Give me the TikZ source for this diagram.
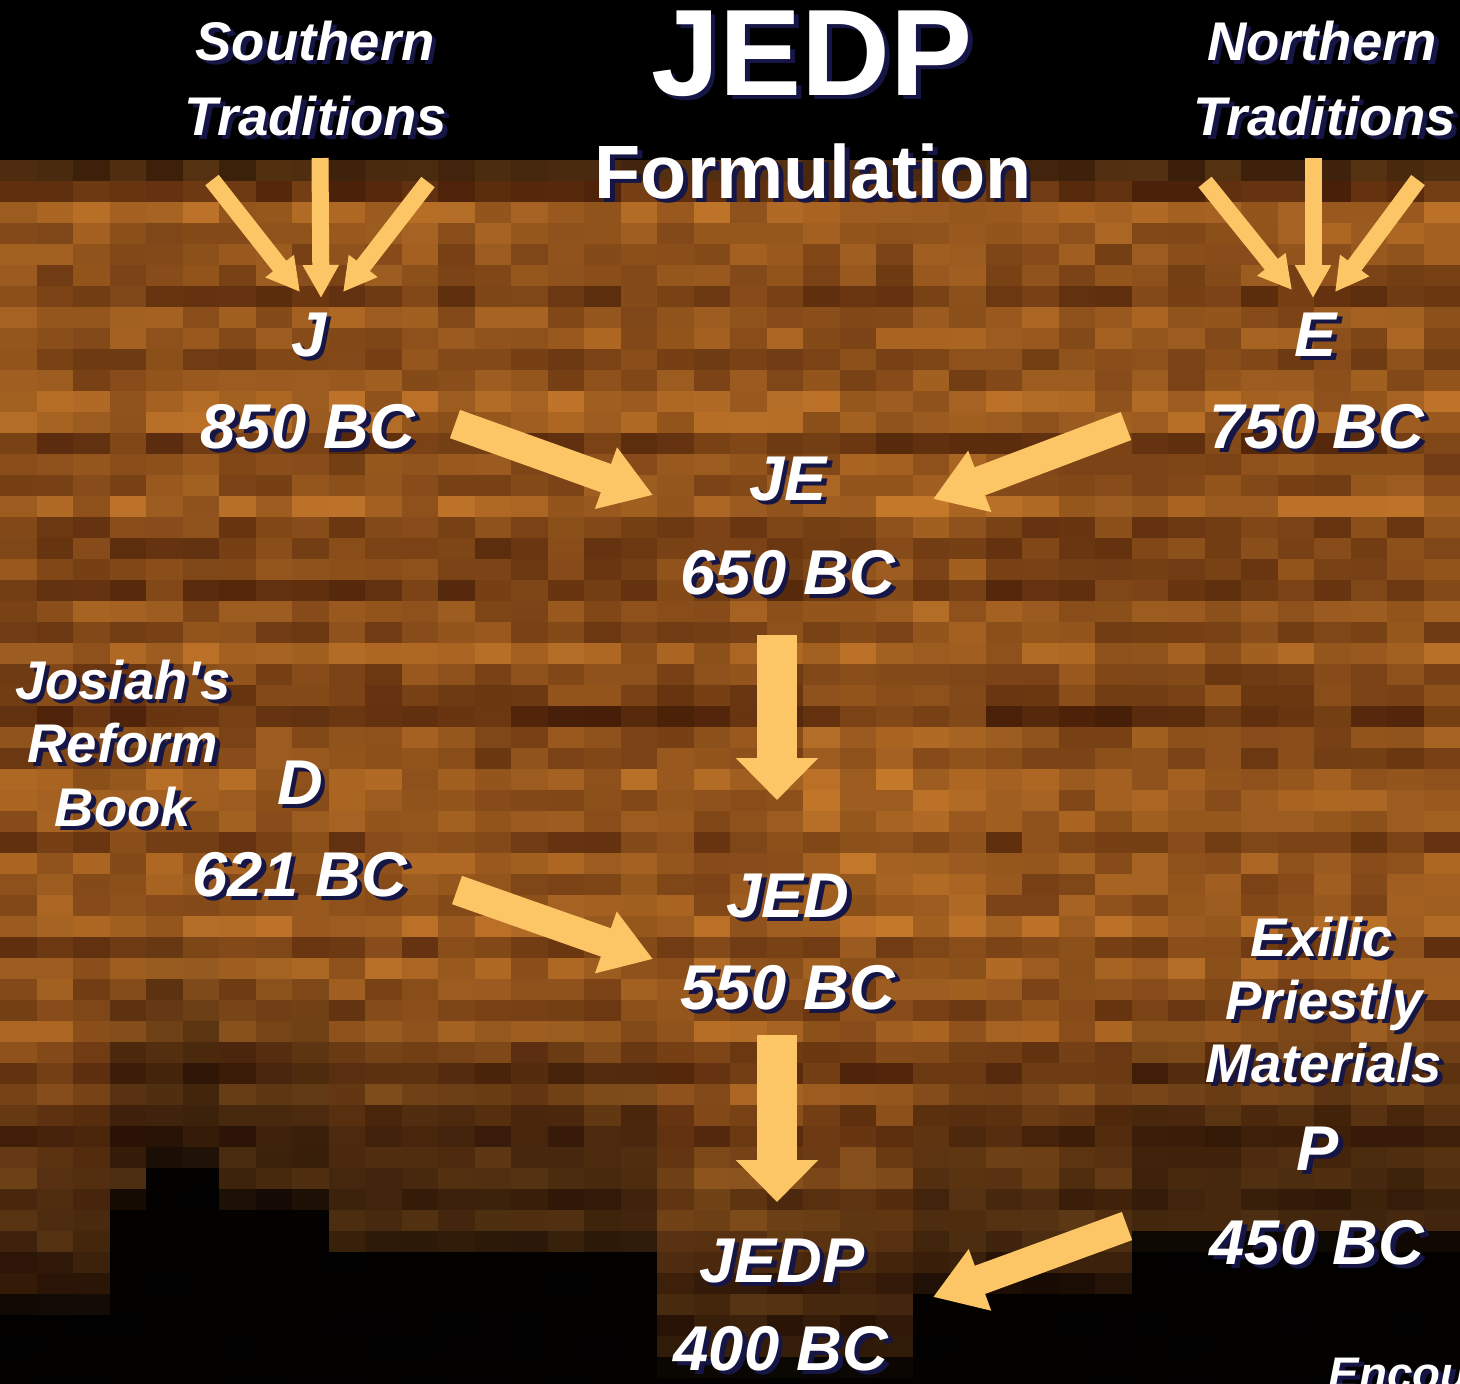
\documentclass[tikz,border=0pt]{standalone}
\usepackage{fontspec}
\setmainfont{Liberation Sans}
\usetikzlibrary{arrows.meta}
\definecolor{arrowc}{RGB}{252,198,102}
\definecolor{lt}{RGB}{196,120,42}
\definecolor{dk}{RGB}{66,26,6}
\definecolor{shc}{RGB}{22,22,70}
\newcommand\txsh[1]{\rlap{\kern1.3pt\raisebox{-1.3pt}{\color{shc}#1}}#1}
\begin{document}
\begin{tikzpicture}[x=0.1mm,y=-0.1mm,
  lbl/.style={text=white,inner sep=0,anchor=base,font=\fontsize{18}{20}\selectfont\bfseries\itshape},
  side/.style={lbl,font=\fontsize{15.5}{18}\selectfont\bfseries\itshape},
  smallarr/.style={arrowc,line width=1.7mm,-{Triangle[length=3.3mm,width=3.4mm]}},
  bigarr/.style={arrowc,line width=3mm,-{Triangle[length=5mm,width=6.2mm]}},
  downarr/.style={arrowc,line width=4mm,-{Triangle[length=4.2mm,width=8mm]}}]
\useasboundingbox (0,0) rectangle (1460,1383);
\begin{scope}
\clip (0,0) rectangle (1460,1383);
\fill[black] (0,0) rectangle (1460,1383);
\pgfmathsetseed{12345}
\foreach \j in {0,...,58}{
  \pgfmathsetmacro\bgRow{rnd}
  \pgfmathsetmacro\bgY{160+21*\j}
  \foreach \i in {0,...,39}{
    \pgfmathsetmacro\bgX{36.5*\i}
    \pgfmathsetmacro\bgXc{\bgX+18}
    \pgfmathsetmacro\bgH{\bgXc<95 ? 1250 : (\bgXc<160 ? 1150 : (\bgXc<215 ? 1110 : (\bgXc<320 ? 1150 : (\bgXc<650 ? 1200 : (\bgXc<930 ? 1310 : (\bgXc<1130 ? 1240 : 1185))))))}
    \pgfmathsetmacro\bgTa{max(0,min(1,(\bgY+10-\bgH)/60))}
    \pgfmathsetmacro\bgTb{0.55*max(0,min(1,(\bgY+10-\bgH+200)/200))}
    \pgfmathsetmacro\bgTc{(\bgY<180) ? 0.5 : 0}
    \pgfmathsetmacro\bgD{int(100*(1-0.97*max(\bgTa,max(\bgTb,\bgTc))))}
    \pgfmathsetmacro\bgG{(abs(\bgXc-880)<90 && \bgY>450 && \bgY<950) ? 12 : 0}
    \pgfmathsetmacro\bgR{int(max(0,min(100,2+58*\bgRow+38*rnd+\bgG)))}
    \fill[lt!\bgR!dk!\bgD!black] (\bgX,\bgY) rectangle ++(37,22);
  }
}
\end{scope}

% title
\node[text=white,inner sep=0,anchor=base,font=\fontsize{35}{38}\selectfont\bfseries] (title) at (812,95) {\txsh{JEDP}};
\node[text=white,inner sep=0,anchor=base,font=\fontsize{21.5}{24}\selectfont\bfseries] (form) at (813,198) {\txsh{Formulation}};

% side headers
\node[side] (south1) at (315,60) {\txsh{Southern}};
\node[side] (south2) at (316,135) {\txsh{Traditions}};
\node[side] (north1) at (1322,60) {\txsh{Northern}};
\node[side] (north2) at (1325,135) {\txsh{Traditions}};

% J and E
\node[lbl] (j) at (309,356) {\txsh{J}};
\node[lbl] (j850) at (308,448) {\txsh{850 BC}};
\node[lbl] (e) at (1316,356) {\txsh{E}};
\node[lbl] (e750) at (1317,448) {\txsh{750 BC}};

% JE
\node[lbl] (je) at (788,500) {\txsh{JE}};
\node[lbl] (je650) at (788,594) {\txsh{650 BC}};

% D
\node[side] (jos1) at (123,699) {\txsh{Josiah\textquotesingle s}};
\node[side] (jos2) at (123,762) {\txsh{Reform}};
\node[side] (jos3) at (123,826) {\txsh{Book}};
\node[lbl] (d) at (300,804) {\txsh{D}};
\node[lbl] (d621) at (300,896) {\txsh{621 BC}};

% JED
\node[lbl] (jed) at (788,917) {\txsh{JED}};
\node[lbl] (jed550) at (788,1009) {\txsh{550 BC}};

% P
\node[side] (ex1) at (1322,956) {\txsh{Exilic}};
\node[side] (ex2) at (1324,1019) {\txsh{Priestly}};
\node[side] (ex3) at (1324,1082) {\txsh{Materials}};
\node[lbl] (p) at (1318,1170) {\txsh{P}};
\node[lbl] (p450) at (1317,1264) {\txsh{450 BC}};

% JEDP
\node[lbl] (jedp) at (782,1282) {\txsh{JEDP}};
\node[lbl] (jedp400) at (781,1370) {\txsh{400 BC}};

\node[lbl,anchor=base west,font=\fontsize{13}{15}\selectfont\bfseries\itshape] (enc) at (1328,1389) {\txsh{Encou}};

% arrow end points
\coordinate (sa1) at (212,180); \coordinate (sb1) at (300,292);
\coordinate (sa2) at (320,158); \coordinate (sb2) at (321,298);
\coordinate (sa3) at (428,182); \coordinate (sb3) at (343,292);
\coordinate (na1) at (1205,182); \coordinate (nb1) at (1292,290);
\coordinate (na2) at (1313,158); \coordinate (nb2) at (1313,298);
\coordinate (na3) at (1418,180); \coordinate (nb3) at (1335,292);
\coordinate (jA) at (455,424); \coordinate (jB) at (653,495);
\coordinate (eA) at (1126,426); \coordinate (eB) at (933,499);
\coordinate (d1A) at (777,635); \coordinate (d1B) at (777,800);
\coordinate (dA) at (457,890); \coordinate (dB) at (653,959);
\coordinate (d2A) at (777,1035); \coordinate (d2B) at (777,1202);
\coordinate (pA) at (1127,1226); \coordinate (pB) at (933,1297);

\draw[smallarr] (sa1) -- (sb1);
\draw[smallarr] (sa2) -- (sb2);
\draw[smallarr] (sa3) -- (sb3);
\draw[smallarr] (na1) -- (nb1);
\draw[smallarr] (na2) -- (nb2);
\draw[smallarr] (na3) -- (nb3);
\draw[bigarr] (jA) -- (jB);
\draw[bigarr] (eA) -- (eB);
\draw[downarr] (d1A) -- (d1B);
\draw[bigarr] (dA) -- (dB);
\draw[downarr] (d2A) -- (d2B);
\draw[bigarr] (pA) -- (pB);
\end{tikzpicture}
\end{document}
